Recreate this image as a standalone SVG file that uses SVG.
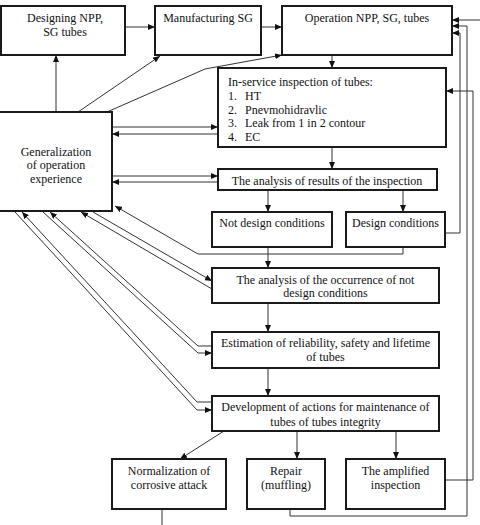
<svg xmlns="http://www.w3.org/2000/svg" width="480" height="525" viewBox="0 0 480 525">
<style>
.box{fill:#fff;stroke:#1a1a1a;stroke-width:2}
.c{fill:none;stroke:#333;stroke-width:1}
text{font-family:"Liberation Serif","Times New Roman",serif;font-size:12px;fill:#111}
.m{text-anchor:middle}
</style>
<defs>
<marker id="a" markerWidth="7" markerHeight="6" refX="7" refY="3" orient="auto" markerUnits="userSpaceOnUse"><path d="M0,0 L7,3 L0,6 z" fill="#111"/></marker>
</defs>
<g id="connectors">
<path class="c" d="M125,27 H155" marker-end="url(#a)"/>
<path class="c" d="M261,27 H282" marker-end="url(#a)"/>
<path class="c" d="M332,55 V68" marker-end="url(#a)"/>
<path class="c" d="M56,112 V55" marker-end="url(#a)"/>
<path class="c" d="M78,112 L160,56" marker-end="url(#a)"/>
<path class="c" d="M107,112 L205,69 L282,55" marker-end="url(#a)"/>
<path class="c" d="M112,127 H218" marker-end="url(#a)"/>
<path class="c" d="M218,134 H112" marker-end="url(#a)"/>
<path class="c" d="M332,147 V169" marker-end="url(#a)"/>
<path class="c" d="M112,176 H218" marker-end="url(#a)"/>
<path class="c" d="M218,182 H112" marker-end="url(#a)"/>
<path class="c" d="M268,190 V212" marker-end="url(#a)"/>
<path class="c" d="M403,190 V212" marker-end="url(#a)"/>
<path class="c" d="M268,247 V268" marker-end="url(#a)"/>
<path class="c" d="M403,247 V254 H198 L115,206" marker-end="url(#a)"/>
<path class="c" d="M445,233 H460 V33 H452" marker-end="url(#a)"/>
<path class="c" d="M93,212 L212,281" marker-end="url(#a)"/>
<path class="c" d="M212,289 L81,212" marker-end="url(#a)"/>
<path class="c" d="M268,303 V332" marker-end="url(#a)"/>
<path class="c" d="M212,346 H198 L50,212" marker-end="url(#a)"/>
<path class="c" d="M43,212 L198,353 H212" marker-end="url(#a)"/>
<path class="c" d="M268,368 V396" marker-end="url(#a)"/>
<path class="c" d="M212,402 H197 L22,212" marker-end="url(#a)"/>
<path class="c" d="M15,212 L197,410 H212" marker-end="url(#a)"/>
<path class="c" d="M224,431 L180,459" marker-end="url(#a)"/>
<path class="c" d="M297,431 V459" marker-end="url(#a)"/>
<path class="c" d="M396,431 V459" marker-end="url(#a)"/>
<path class="c" d="M162,509 V525"/>
<path class="c" d="M290,509 V516 H467 V26 H452" marker-end="url(#a)"/>
<path class="c" d="M445,480 H473 V91 H446" marker-end="url(#a)"/>
<path class="c" d="M480,20 H452" marker-end="url(#a)"/>
</g>
<g id="designing">
<rect class="box" x="1" y="6" width="124" height="49"/>
<text class="m" x="65" y="22">Designing NPP,</text>
<text class="m" x="65" y="36">SG tubes</text>
</g>
<g id="manufacturing">
<rect class="box" x="155" y="6" width="106" height="49"/>
<text class="m" x="208" y="22">Manufacturing SG</text>
</g>
<g id="operation">
<rect class="box" x="282" y="6" width="170" height="49"/>
<text class="m" x="367" y="22">Operation NPP, SG, tubes</text>
</g>
<g id="inservice">
<rect class="box" x="218" y="68" width="228" height="79"/>
<text x="228" y="86">In-service inspection of tubes:</text>
<text x="228" y="100">1.</text><text x="245" y="100">HT</text>
<text x="228" y="113.5">2.</text><text x="245" y="113.5">Pnevmohidravlic</text>
<text x="228" y="127">3.</text><text x="245" y="127">Leak from 1 in 2 contour</text>
<text x="228" y="141">4.</text><text x="245" y="141">EC</text>
</g>
<g id="generalization">
<rect class="box" x="-3" y="112" width="115" height="99"/>
<text class="m" x="56" y="156">Generalization</text>
<text class="m" x="56" y="169">of operation</text>
<text class="m" x="56" y="183">experience</text>
</g>
<g id="analysis-results">
<rect class="box" x="218" y="169" width="219" height="21"/>
<text class="m" x="327" y="185">The analysis of results of the inspection</text>
</g>
<g id="not-design">
<rect class="box" x="212" y="212" width="120" height="35"/>
<text class="m" x="272" y="227">Not design conditions</text>
</g>
<g id="design">
<rect class="box" x="346" y="212" width="99" height="35"/>
<text class="m" x="395.5" y="227">Design conditions</text>
</g>
<g id="analysis-occurrence">
<rect class="box" x="212" y="268" width="227" height="35"/>
<text class="m" x="325.5" y="284">The analysis of the occurrence of not</text>
<text class="m" x="325.5" y="297">design conditions</text>
</g>
<g id="estimation">
<rect class="box" x="212" y="332" width="227" height="36"/>
<text class="m" x="325.5" y="347">Estimation of reliability, safety and lifetime</text>
<text class="m" x="325.5" y="361">of tubes</text>
</g>
<g id="development">
<rect class="box" x="212" y="396" width="227" height="35"/>
<text class="m" x="325.5" y="411">Development of actions for maintenance of</text>
<text class="m" x="325.5" y="426">tubes of tubes integrity</text>
</g>
<g id="normalization">
<rect class="box" x="112" y="459" width="114" height="50"/>
<text class="m" x="169" y="475">Normalization of</text>
<text class="m" x="169" y="489">corrosive attack</text>
</g>
<g id="repair">
<rect class="box" x="247" y="459" width="78" height="50"/>
<text class="m" x="286" y="475">Repair</text>
<text class="m" x="286" y="489">(muffling)</text>
</g>
<g id="amplified">
<rect class="box" x="346" y="459" width="99" height="50"/>
<text class="m" x="395.5" y="475">The amplified</text>
<text class="m" x="395.5" y="489">inspection</text>
</g>
</svg>
